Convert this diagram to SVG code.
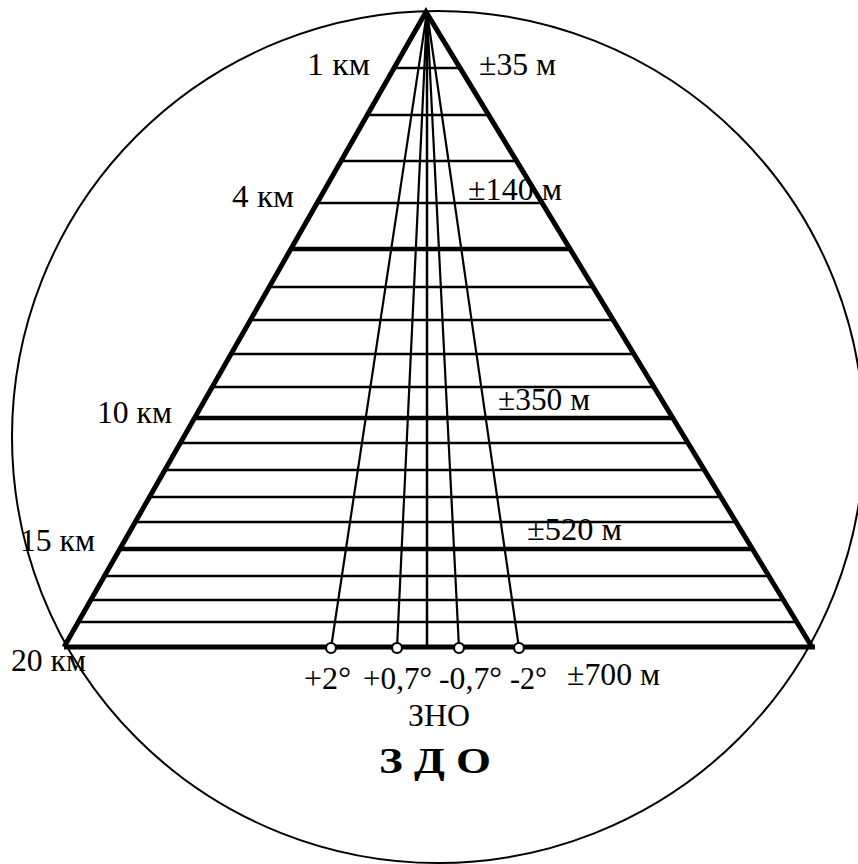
<svg xmlns="http://www.w3.org/2000/svg" width="858" height="864" viewBox="0 0 858 864">
<style>
.ln{stroke:#000;fill:none;stroke-linecap:butt}
.thin{stroke-width:2.5}
.thick{stroke-width:4.5}
.ray{stroke-width:2.2}
.side{stroke-width:5;stroke-linejoin:miter;stroke-miterlimit:20}
.t{font-family:"Liberation Serif","Times New Roman",serif;font-size:31px;fill:#000}
.b{font-family:"Liberation Serif","Times New Roman",serif;font-size:35px;font-weight:bold;fill:#000}
.dot{fill:#fff;stroke:#000;stroke-width:2.2}
</style>
<rect width="858" height="864" fill="#fff"/>
<g id="circle"><circle cx="438" cy="437" r="426" class="ln" stroke-width="2"/></g>
<g id="connectors">
<g id="grid">
<line class="ln thin" x1="394.1" y1="68" x2="460" y2="68"/>
<line class="ln thin" x1="367.3" y1="115" x2="488.6" y2="115"/>
<line class="ln thin" x1="341.1" y1="161" x2="516.6" y2="161"/>
<line class="ln thin" x1="317.1" y1="203" x2="542.1" y2="203"/>
<line class="ln thick" x1="290.9" y1="249" x2="570.1" y2="249"/>
<line class="ln thin" x1="269.2" y1="287" x2="593.2" y2="287"/>
<line class="ln thin" x1="250.4" y1="320" x2="613.2" y2="320"/>
<line class="ln thin" x1="231" y1="354" x2="633.9" y2="354"/>
<line class="ln thin" x1="212.2" y1="387" x2="654" y2="387"/>
<line class="ln thick" x1="194.5" y1="418" x2="672.8" y2="418"/>
<line class="ln thin" x1="180.3" y1="443" x2="688" y2="443"/>
<line class="ln thin" x1="164.9" y1="470" x2="704.4" y2="470"/>
<line class="ln thin" x1="149.5" y1="497" x2="720.8" y2="497"/>
<line class="ln thin" x1="135.2" y1="522" x2="736" y2="522"/>
<line class="ln thick" x1="119.9" y1="549" x2="752.4" y2="549"/>
<line class="ln thin" x1="104.5" y1="576" x2="768.9" y2="576"/>
<line class="ln thin" x1="90.8" y1="600" x2="783.4" y2="600"/>
<line class="ln thin" x1="78.2" y1="622" x2="796.8" y2="622"/>
<line class="ln" stroke-width="5" x1="64" y1="647" x2="815" y2="647"/>
</g>
<g id="rays">
<line class="ln ray" x1="427" y1="12" x2="331" y2="648"/>
<line class="ln ray" x1="427" y1="12" x2="397" y2="648"/>
<line class="ln thin" x1="427" y1="12" x2="427" y2="647"/>
<line class="ln ray" x1="427" y1="12" x2="459" y2="648"/>
<line class="ln ray" x1="427" y1="12" x2="519" y2="648"/>
</g>
<g id="triangle">
<polyline class="ln side" points="64,647 426,12 812,647"/>
</g>
</g>
<g id="markers">
<circle class="dot" cx="331" cy="648" r="5"/>
<circle class="dot" cx="397" cy="648" r="5"/>
<circle class="dot" cx="459" cy="648" r="5"/>
<circle class="dot" cx="519" cy="648" r="5"/>
</g>
<g id="labels-left">
<text class="t" x="307" y="75" textLength="63" lengthAdjust="spacingAndGlyphs">1 км</text>
<text class="t" x="232" y="207" textLength="62" lengthAdjust="spacingAndGlyphs">4 км</text>
<text class="t" x="97" y="423" textLength="75" lengthAdjust="spacingAndGlyphs">10 км</text>
<text class="t" x="20" y="551" textLength="75" lengthAdjust="spacingAndGlyphs">15 км</text>
<text class="t" x="11" y="671" textLength="75" lengthAdjust="spacingAndGlyphs">20 км</text>
</g>
<g id="labels-right">
<text class="t" x="479" y="75" textLength="77" lengthAdjust="spacingAndGlyphs">±35 м</text>
<text class="t" x="468" y="200" textLength="94" lengthAdjust="spacingAndGlyphs">±140 м</text>
<text class="t" x="498" y="410" textLength="92" lengthAdjust="spacingAndGlyphs">±350 м</text>
<text class="t" x="527" y="540" textLength="95" lengthAdjust="spacingAndGlyphs">±520 м</text>
<text class="t" x="567" y="685" textLength="93" lengthAdjust="spacingAndGlyphs">±700 м</text>
</g>
<g id="labels-bottom">
<text class="t" x="304" y="689" textLength="47" lengthAdjust="spacingAndGlyphs">+2°</text>
<text class="t" x="363" y="689" textLength="69" lengthAdjust="spacingAndGlyphs">+0,7°</text>
<text class="t" x="439" y="689" textLength="63" lengthAdjust="spacingAndGlyphs">-0,7°</text>
<text class="t" x="510" y="689" textLength="37" lengthAdjust="spacingAndGlyphs">-2°</text>
<text class="t" x="408" y="726" textLength="62" lengthAdjust="spacingAndGlyphs">ЗНО</text>
<text class="b" x="379" y="773" textLength="112" lengthAdjust="spacingAndGlyphs">З Д О</text>
</g>
</svg>
